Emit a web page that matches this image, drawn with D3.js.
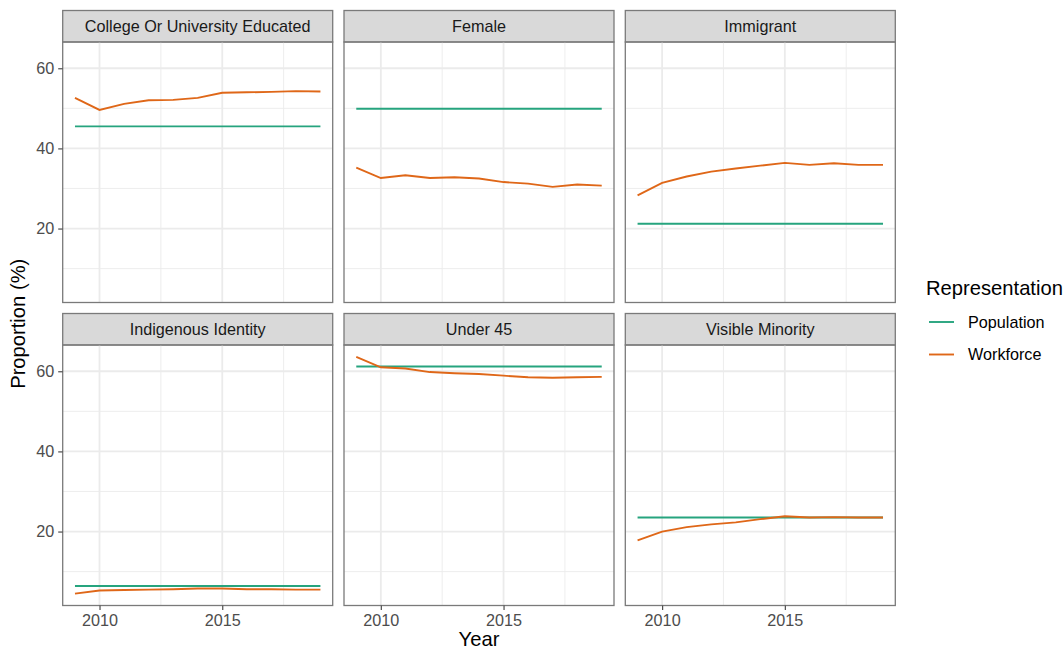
<!DOCTYPE html>
<html>
<head>
<meta charset="utf-8">
<script src="https://cdn.jsdelivr.net/npm/d3@7"></script>
<style>
  html, body { margin: 0; padding: 0; background: #fff; }
  svg { display: block; font-family: "Liberation Sans", Arial, Helvetica, sans-serif; }
</style>
</head>
<body>
<svg id="chart" width="1064" height="651"></svg>
<script>
// Survey years shared by every facet
const years = [2009, 2010, 2011, 2012, 2013, 2014, 2015, 2016, 2017, 2018, 2019];

// Facet labels, in facet order
const categories = [
  "College Or University Educated",
  "Female",
  "Immigrant",
  "Indigenous Identity",
  "Under 45",
  "Visible Minority"
];

// Share of the general population (%), per facet and year
const populationCollege    = [45.5, 45.5, 45.5, 45.5, 45.5, 45.5, 45.5, 45.5, 45.5, 45.5, 45.5];
const populationFemale     = [49.9, 49.9, 49.9, 49.9, 49.9, 49.9, 49.9, 49.9, 49.9, 49.9, 49.9];
const populationImmigrant  = [21.2, 21.2, 21.2, 21.2, 21.2, 21.2, 21.2, 21.2, 21.2, 21.2, 21.2];
const populationIndigenous = [6.4, 6.4, 6.4, 6.4, 6.4, 6.4, 6.4, 6.4, 6.4, 6.4, 6.4];
const populationUnder45    = [61.2, 61.2, 61.2, 61.2, 61.2, 61.2, 61.2, 61.2, 61.2, 61.2, 61.2];
const populationVisible    = [23.5, 23.5, 23.5, 23.5, 23.5, 23.5, 23.5, 23.5, 23.5, 23.5, 23.5];

// Share of the workforce (%), per facet and year
const workforceCollege    = [52.6, 49.6, 51.1, 52.0, 52.1, 52.6, 53.9, 54.0, 54.1, 54.3, 54.2];
const workforceFemale     = [35.2, 32.6, 33.3, 32.6, 32.8, 32.5, 31.6, 31.2, 30.4, 31.0, 30.7];
const workforceImmigrant  = [28.3, 31.4, 33.0, 34.2, 35.0, 35.7, 36.4, 35.9, 36.3, 35.9, 35.9];
const workforceIndigenous = [4.5, 5.3, 5.4, 5.5, 5.6, 5.8, 5.8, 5.6, 5.6, 5.5, 5.5];
const workforceUnder45    = [63.6, 61.0, 60.7, 59.8, 59.5, 59.3, 58.9, 58.5, 58.4, 58.5, 58.6];
const workforceVisible    = [17.8, 20.0, 21.1, 21.8, 22.3, 23.1, 23.8, 23.5, 23.6, 23.5, 23.5];

// Series names (legend order)
const seriesNames = ["Population", "Workforce"];

// Axis ticks
const yMajorTicks = [20, 40, 60];
const yMinorTicks = [10, 30, 50];
const xMajorTicks = [2010, 2015];
const xMinorTicks = [2012.5, 2017.5];

const populationByFacet = [populationCollege, populationFemale, populationImmigrant,
                           populationIndigenous, populationUnder45, populationVisible];
const workforceByFacet  = [workforceCollege, workforceFemale, workforceImmigrant,
                           workforceIndigenous, workforceUnder45, workforceVisible];

const facets = categories.map((name, i) => ({
  name,
  series: [
    { key: seriesNames[0], values: years.map((y, j) => ({ year: y, value: populationByFacet[i][j] })) },
    { key: seriesNames[1], values: years.map((y, j) => ({ year: y, value: workforceByFacet[i][j] })) }
  ]
}));

// ---- layout ----
const colX = [62.7, 344, 625.3];
const panelW = 270;
const rowTop = [10.5, 313.5];
const stripH = 31.5;
const panelH = 260.5;

const smallFont = 16.2;
const titleFont = 20.2;

const colour = d3.scaleOrdinal().domain(seriesNames).range(["#26a47e", "#df6718"]);

// Shared (fixed) scales with 5% expansion
const allVals = facets.flatMap(f => f.series.flatMap(s => s.values.map(d => d.value)));
const yMin = d3.min(allVals), yMax = d3.max(allVals);
const yPad = (yMax - yMin) * 0.05;
const xExt = d3.extent(years);
const xPad = (xExt[1] - xExt[0]) * 0.05;

const x = d3.scaleLinear().domain([xExt[0] - xPad, xExt[1] + xPad]).range([0, panelW]);
const y = d3.scaleLinear().domain([yMin - yPad, yMax + yPad]).range([panelH, 0]);

const svg = d3.select("#chart");
svg.append("rect").attr("width", 1064).attr("height", 651).attr("fill", "#fff");

const borderCol = "#7a7a7a";
const gridCol = "#ebebeb";

const line = d3.line().x(d => x(d.year)).y(d => y(d.value));

facets.forEach((f, i) => {
  const col = i % 3, row = Math.floor(i / 3);
  const g = svg.append("g")
    .attr("transform", `translate(${colX[col]},${rowTop[row]})`);

  // strip
  g.append("rect")
    .attr("x", 0).attr("y", 0).attr("width", panelW).attr("height", stripH)
    .attr("fill", "#d9d9d9").attr("stroke", borderCol).attr("stroke-width", 1.3);
  g.append("text")
    .attr("x", panelW / 2).attr("y", stripH / 2).attr("dy", "0.36em")
    .attr("text-anchor", "middle").attr("font-size", smallFont).attr("fill", "#1a1a1a")
    .text(f.name);

  const p = g.append("g").attr("transform", `translate(0,${stripH})`);

  // grid
  p.selectAll(".ymin").data(yMinorTicks).join("line")
    .attr("x1", 0).attr("x2", panelW).attr("y1", d => y(d)).attr("y2", d => y(d))
    .attr("stroke", gridCol).attr("stroke-width", 0.9);
  p.selectAll(".xmin").data(xMinorTicks).join("line")
    .attr("y1", 0).attr("y2", panelH).attr("x1", d => x(d)).attr("x2", d => x(d))
    .attr("stroke", gridCol).attr("stroke-width", 0.9);
  p.selectAll(".ymaj").data(yMajorTicks).join("line")
    .attr("x1", 0).attr("x2", panelW).attr("y1", d => y(d)).attr("y2", d => y(d))
    .attr("stroke", gridCol).attr("stroke-width", 1.8);
  p.selectAll(".xmaj").data(xMajorTicks).join("line")
    .attr("y1", 0).attr("y2", panelH).attr("x1", d => x(d)).attr("x2", d => x(d))
    .attr("stroke", gridCol).attr("stroke-width", 1.8);

  // data lines
  p.selectAll(".series").data(f.series).join("path")
    .attr("d", s => line(s.values))
    .attr("fill", "none")
    .attr("stroke", s => colour(s.key))
    .attr("stroke-width", 1.9);

  // panel border
  p.append("rect")
    .attr("x", 0).attr("y", 0).attr("width", panelW).attr("height", panelH)
    .attr("fill", "none").attr("stroke", borderCol).attr("stroke-width", 1.3);

  // y axis on left column
  if (col === 0) {
    const ya = p.append("g")
      .call(d3.axisLeft(y).tickValues(yMajorTicks).tickSize(4.5).tickPadding(4));
    ya.select(".domain").remove();
    ya.selectAll("line").attr("stroke", "#4d4d4d").attr("stroke-width", 1.2);
    ya.selectAll("text").attr("font-size", smallFont).attr("fill", "#4d4d4d")
      .attr("font-family", "Liberation Sans, Arial, sans-serif");
  }
  // x axis on bottom row
  if (row === 1) {
    const xa = p.append("g").attr("transform", `translate(0,${panelH})`)
      .call(d3.axisBottom(x).tickValues(xMajorTicks).tickFormat(d3.format("d")).tickSize(4.5).tickPadding(4));
    xa.select(".domain").remove();
    xa.selectAll("line").attr("stroke", "#4d4d4d").attr("stroke-width", 1.2);
    xa.selectAll("text").attr("font-size", smallFont).attr("fill", "#4d4d4d")
      .attr("font-family", "Liberation Sans, Arial, sans-serif");
  }
});

// axis titles
svg.append("text")
  .attr("transform", `translate(25,${(rowTop[0] + stripH + rowTop[1] + stripH + panelH) / 2}) rotate(-90)`)
  .attr("text-anchor", "middle").attr("font-size", titleFont).attr("fill", "#000")
  .text("Proportion (%)");
svg.append("text")
  .attr("x", (colX[0] + colX[2] + panelW) / 2).attr("y", 646)
  .attr("text-anchor", "middle").attr("font-size", titleFont).attr("fill", "#000")
  .text("Year");

// legend
const legend = svg.append("g").attr("transform", "translate(926,0)");
legend.append("text")
  .attr("x", 0).attr("y", 295).attr("font-size", titleFont).attr("fill", "#000")
  .text("Representation");
const keyY = d3.scalePoint().domain(seriesNames).range([322, 354.5]);
const items = legend.selectAll(".item").data(seriesNames).join("g")
  .attr("transform", d => `translate(0,${keyY(d)})`);
items.append("line")
  .attr("x1", 3).attr("x2", 28).attr("y1", 0).attr("y2", 0)
  .attr("stroke", d => colour(d)).attr("stroke-width", 1.9);
items.append("text")
  .attr("x", 42).attr("y", 0).attr("dy", "0.36em")
  .attr("font-size", smallFont).attr("fill", "#000")
  .text(d => d);
</script>
</body>
</html>
